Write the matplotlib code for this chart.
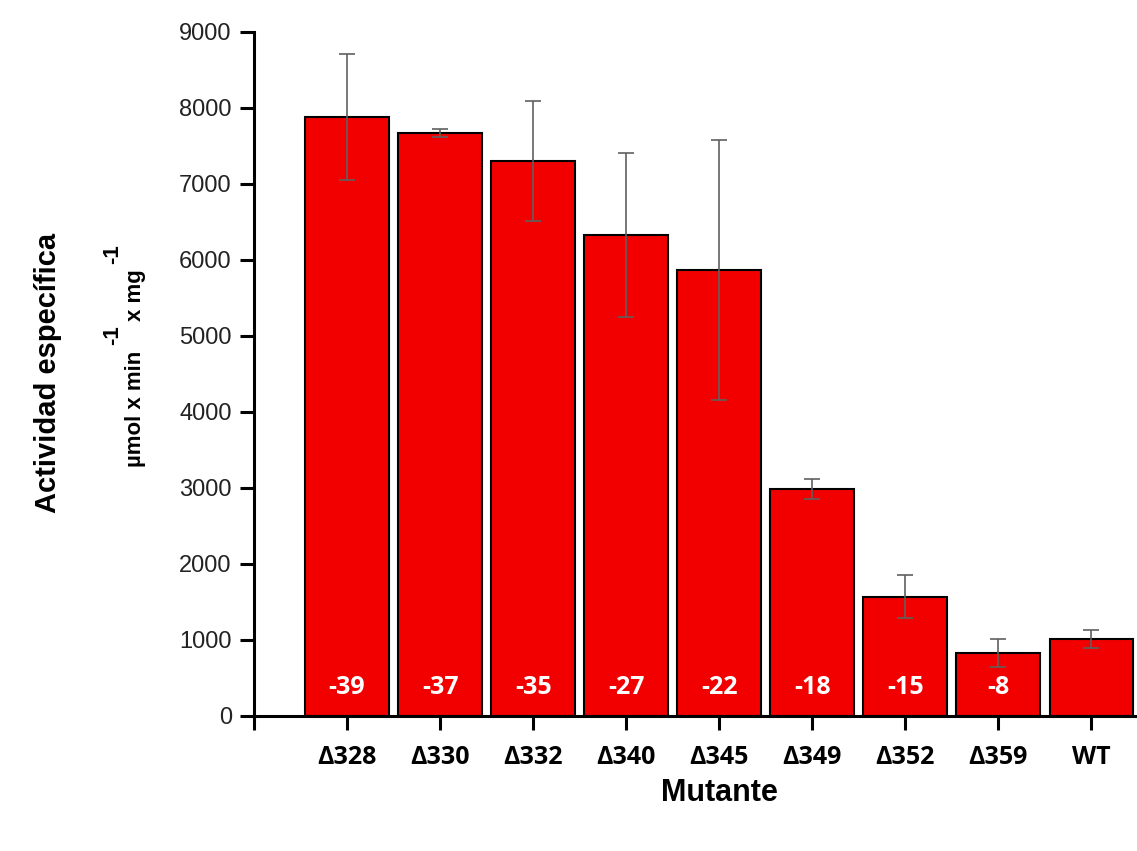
import matplotlib.pyplot as plt
from matplotlib.text import Annotation

# actividad específica por mutante
mutantes = ['Δ328', 'Δ330', 'Δ332', 'Δ340', 'Δ345', 'Δ349', 'Δ352', 'Δ359', 'WT']
actividad = [7880, 7670, 7300, 6330, 5870, 2990, 1570, 830, 1010]
error = [830, 50, 790, 1080, 1710, 130, 280, 180, 120]
deleciones = ['-39', '-37', '-35', '-27', '-22', '-18', '-15', '-8', '']

rojo = '#f20000'
arial = ['Liberation Sans', 'DejaVu Sans']
calibri = ['Open Sans', 'DejaVu Sans']

fig = plt.figure(figsize=(11.37, 8.51), dpi=100)
W, H = 1137, 851
ax = fig.add_axes([254 / W, 1 - 716 / H, 1 - 254 / W, (716 - 32) / H])

pos = list(range(1, len(mutantes) + 1))
ax.bar(pos, actividad, width=0.9, color=rojo, edgecolor='black', linewidth=1.5, zorder=2)
ax.errorbar(pos, actividad, yerr=error, fmt='none', ecolor='#606060',
            elinewidth=1.2, capsize=5.5, capthick=1.2, zorder=3)

for x, txt in zip(pos, deleciones):
    ax.text(x, 370, txt, ha='center', va='center', color='white',
            fontsize=18, fontweight='bold', family=calibri, zorder=4)

ax.set_xlim(0, 9.49)
ax.set_ylim(0, 9000)
ax.set_yticks(range(0, 9001, 1000))
ax.set_xticks([0] + pos)
ax.set_xticklabels([''] + mutantes, fontsize=18, fontweight='bold', family=calibri)
for lab in ax.get_yticklabels():
    lab.set_family(arial)
    lab.set_fontsize(17)
    lab.set_color('#222222')

ax.spines['top'].set_visible(False)
ax.spines['right'].set_visible(False)
for s in ('left', 'bottom'):
    ax.spines[s].set_linewidth(2.2)
ax.tick_params(axis='y', direction='out', length=10, width=2.2, pad=6)
ax.tick_params(axis='x', direction='out', length=10, width=2.2, pad=11)

# etiquetas de los ejes
fig.text(719 / W, 1 - 793 / H, 'Mutante', ha='center', va='center',
         fontsize=22, fontweight='bold', family=arial)
fig.text(48 / W, 1 - 373 / H, 'Actividad específica', rotation=90,
         ha='center', va='center', fontsize=21, fontweight='bold', family=arial)

# unidades con exponentes elevados
base = 141 / W
sup = 118 / W
kw = dict(rotation=90, rotation_mode='anchor', ha='left', va='baseline',
          fontsize=16, fontweight='bold', family=arial)
t1 = fig.text(base, 1 - 467 / H, 'µmol x min', **kw)
s1 = fig.add_artist(Annotation('-1', xy=(sup, 1.0), xycoords=('figure fraction', t1),
                               xytext=(0, 4), textcoords='offset points', **kw))
t2 = fig.add_artist(Annotation('x mg', xy=(base, 1.0), xycoords=('figure fraction', s1),
                               xytext=(0, 3), textcoords='offset points', **kw))
s2 = fig.add_artist(Annotation('-1', xy=(sup, 1.0), xycoords=('figure fraction', t2),
                               xytext=(0, 4), textcoords='offset points', **kw))

fig.savefig('out.png', dpi=100)
